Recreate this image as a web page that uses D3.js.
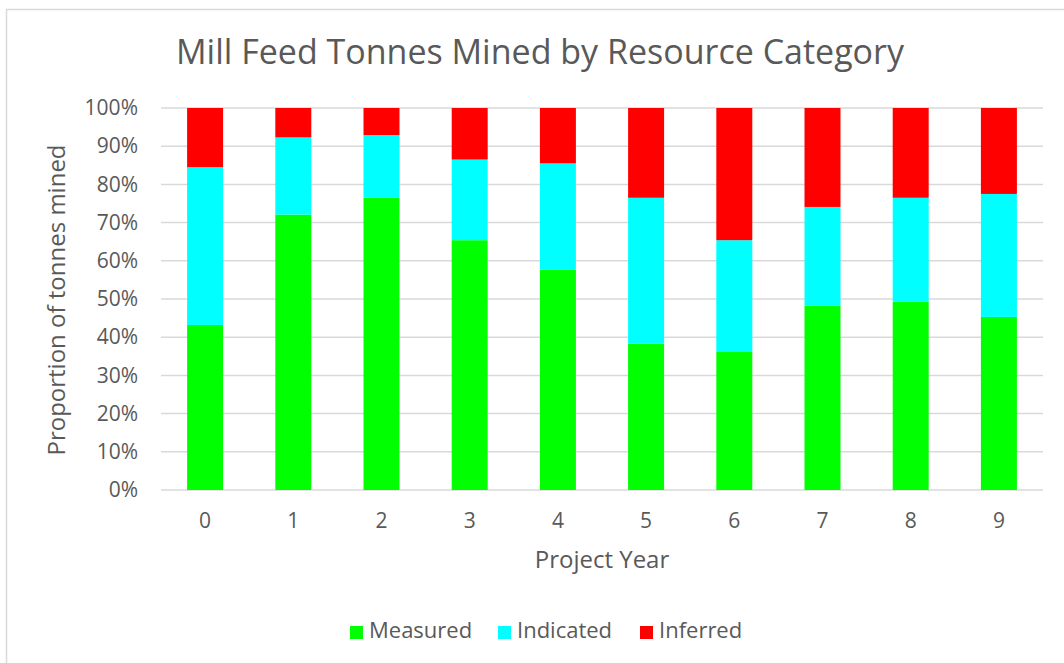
<!DOCTYPE html>
<html>
<head>
<meta charset="utf-8">
<script src="https://cdn.jsdelivr.net/npm/d3@7"></script>
<style>
  body { margin: 0; background: #fff; }
  text { font-family: "Open Sans", "Liberation Sans", sans-serif; fill: #595959; }
</style>
</head>
<body>
<div id="chart"></div>
<script>
// values (percent of tonnes mined)
var years = ["0", "1", "2", "3", "4", "5", "6", "7", "8", "9"];
var measured  = [43.2, 72.1, 76.5, 65.4, 57.7, 38.3, 36.3, 48.3, 49.3, 45.3];
var indicated = [41.3, 20.2, 16.4, 21.1, 27.8, 38.2, 29.1, 25.8, 27.2, 32.2];
var inferred  = [15.5, 7.7, 7.1, 13.5, 14.5, 23.5, 34.6, 25.9, 23.5, 22.5];
var categories = ["Measured", "Indicated", "Inferred"];
var colors = ["#00ff00", "#00ffff", "#ff0000"];
var yTicks = [0, 10, 20, 30, 40, 50, 60, 70, 80, 90, 100];

var W = 1064, H = 663;
var margin = {top: 108, right: 21, bottom: 173, left: 161};
var width = W - margin.left - margin.right;
var height = H - margin.top - margin.bottom;

var rows = years.map(function (y, i) {
    return {year: y, Measured: measured[i], Indicated: indicated[i], Inferred: inferred[i]};
});
var series = d3.stack().keys(categories)(rows);

var svg = d3.select("#chart").append("svg")
    .attr("width", W)
    .attr("height", H);

// chart frame
svg.append("rect")
    .attr("x", 6.5).attr("y", 9.5)
    .attr("width", W + 10).attr("height", H + 10)
    .attr("fill", "#fff")
    .attr("stroke", "#d9d9d9")
    .attr("stroke-width", 1.5);

svg.append("text")
    .attr("x", 540)
    .attr("y", 64)
    .attr("text-anchor", "middle")
    .style("font-size", "34px")
    .text("Mill Feed Tonnes Mined by Resource Category");

var g = svg.append("g")
    .attr("transform", "translate(" + margin.left + "," + margin.top + ")");

var x = d3.scaleBand()
    .domain(years)
    .range([0, width])
    .paddingInner(0.592)
    .paddingOuter(0.296);

var y = d3.scaleLinear()
    .domain([0, 100])
    .range([height, 0]);

// gridlines
g.append("g")
    .selectAll("line")
    .data(yTicks)
    .enter()
    .append("line")
    .attr("x1", 0)
    .attr("x2", width)
    .attr("y1", function (d) { return y(d); })
    .attr("y2", function (d) { return y(d); })
    .attr("stroke", "#d9d9d9")
    .attr("stroke-width", 1.5);

g.append("g")
    .selectAll("g")
    .data(series)
    .enter()
    .append("g")
    .attr("fill", function (d, i) { return colors[i]; })
    .selectAll("rect")
    .data(function (d) { return d; })
    .enter()
    .append("rect")
    .attr("x", function (d) { return x(d.data.year); })
    .attr("y", function (d) { return y(d[1]); })
    .attr("width", x.bandwidth())
    .attr("height", function (d) { return y(d[0]) - y(d[1]); });

var yAxis = g.append("g")
    .call(d3.axisLeft(y).tickValues(yTicks).tickSize(0).tickPadding(23)
        .tickFormat(function (d) { return d + "%"; }));
yAxis.select(".domain").remove();
yAxis.selectAll("text")
    .style("font-size", "21px")
    .attr("fill", "#595959");

var xAxis = g.append("g")
    .attr("transform", "translate(0," + height + ")")
    .call(d3.axisBottom(x).tickSize(0).tickPadding(23));
xAxis.select(".domain").remove();
xAxis.selectAll("text")
    .style("font-size", "21px")
    .attr("fill", "#595959");

svg.append("text")
    .attr("x", 602)
    .attr("y", 568)
    .attr("text-anchor", "middle")
    .style("font-size", "24px")
    .text("Project Year");

svg.append("text")
    .attr("transform", "translate(65,300) rotate(-90)")
    .attr("text-anchor", "middle")
    .style("font-size", "24px")
    .text("Proportion of tonnes mined");

// legend
var legendX = [350, 498, 640];
var legend = svg.append("g");
var item = legend.selectAll("g")
    .data(categories)
    .enter()
    .append("g")
    .attr("transform", function (d, i) { return "translate(" + legendX[i] + ",626)"; });
item.append("rect")
    .attr("width", 13)
    .attr("height", 13)
    .attr("fill", function (d, i) { return colors[i]; });
item.append("text")
    .attr("x", 19)
    .attr("y", 12)
    .style("font-size", "22px")
    .text(function (d) { return d; });
</script>
</body>
</html>
